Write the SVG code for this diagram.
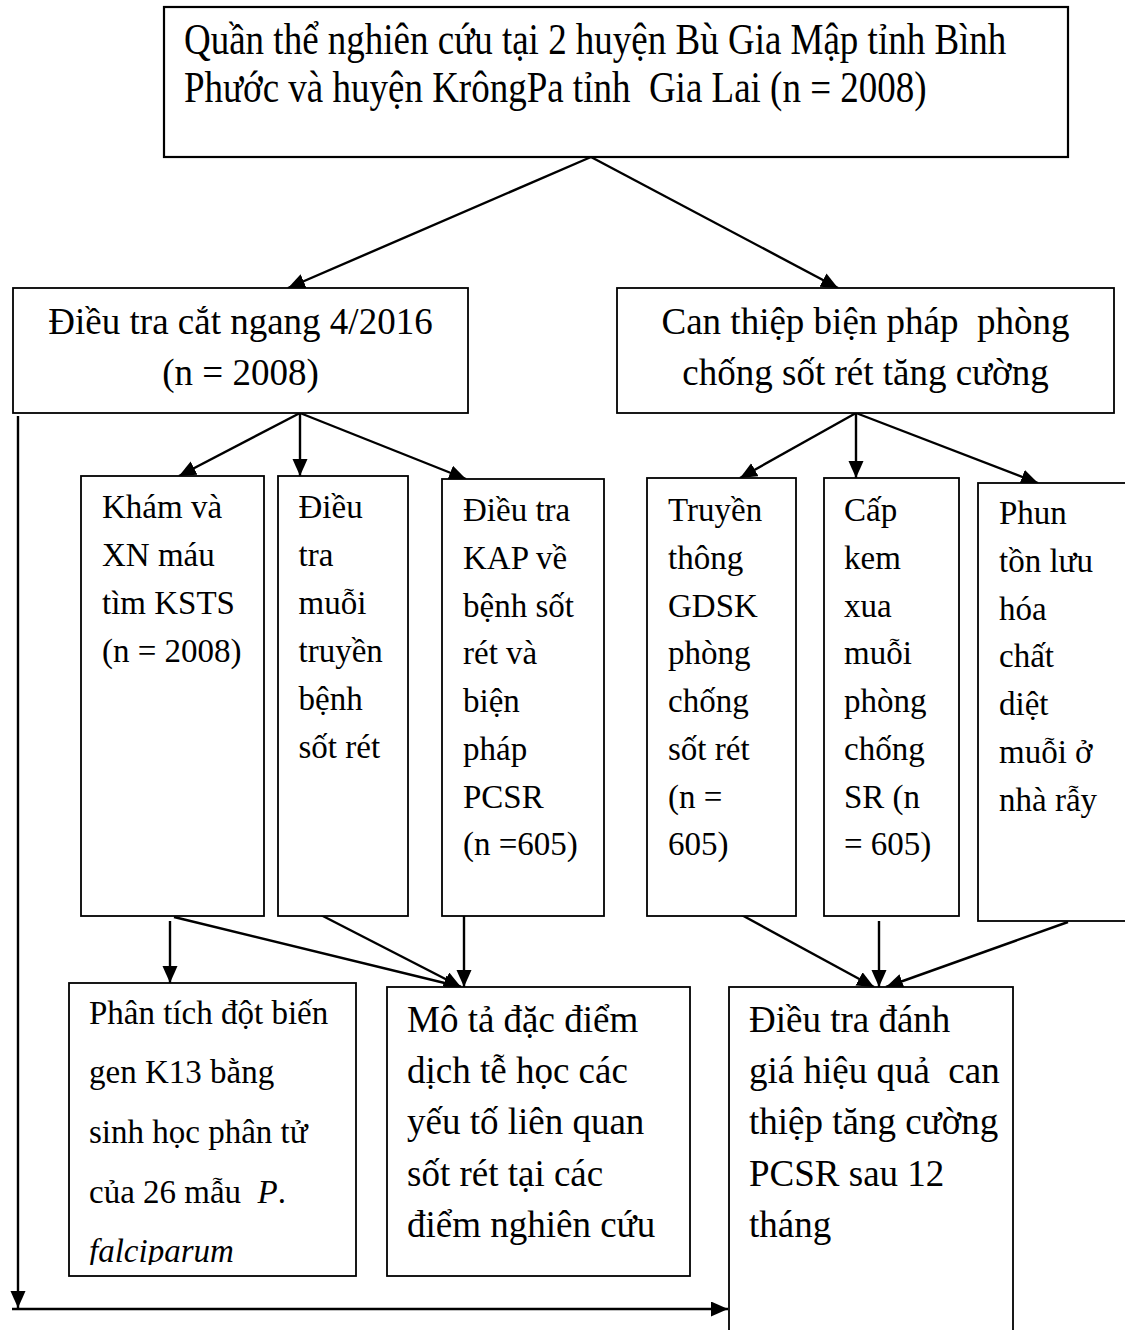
<svg xmlns="http://www.w3.org/2000/svg" width="1125" height="1330" viewBox="0 0 1125 1330">
<style>
.box{fill:#fff;stroke:#000;stroke-width:1.8}
.t{font-family:"Liberation Serif","Times New Roman",serif;fill:#000;white-space:pre}
.f37{font-size:37px}
.f33{font-size:33px}
.c{stroke:#000;stroke-width:2.4;fill:none}
.it{font-style:italic}
</style>
<defs>
<marker id="ah" markerUnits="userSpaceOnUse" markerWidth="18" markerHeight="16" refX="17" refY="7.5" orient="auto">
<path d="M0,0 L17,7.5 L0,15 z" fill="#000"/>
</marker>
<clipPath id="clipG"><rect x="69" y="983" width="287" height="282"/></clipPath>
</defs>
<rect width="1125" height="1330" fill="#fff"/>

<g id="connectors">
<line class="c" x1="591" y1="157" x2="288" y2="288" marker-end="url(#ah)"/>
<line class="c" x1="591" y1="157" x2="838" y2="288" marker-end="url(#ah)"/>
<line class="c" x1="300" y1="413" x2="179" y2="476" marker-end="url(#ah)"/>
<line class="c" x1="300" y1="413" x2="300" y2="476" marker-end="url(#ah)"/>
<line class="c" x1="300" y1="413" x2="466" y2="479" marker-end="url(#ah)"/>
<line class="c" x1="856" y1="413" x2="740" y2="478" marker-end="url(#ah)"/>
<line class="c" x1="856" y1="413" x2="856" y2="478" marker-end="url(#ah)"/>
<line class="c" x1="856" y1="413" x2="1038" y2="483" marker-end="url(#ah)"/>
<line class="c" x1="170" y1="921" x2="170" y2="983" marker-end="url(#ah)"/>
<line class="c" x1="174" y1="917" x2="461" y2="987" marker-end="url(#ah)"/>
<line class="c" x1="317" y1="913" x2="461" y2="987" marker-end="url(#ah)"/>
<line class="c" x1="464" y1="913" x2="464" y2="987" marker-end="url(#ah)"/>
<line class="c" x1="738" y1="913" x2="874" y2="987" marker-end="url(#ah)"/>
<line class="c" x1="879" y1="921" x2="879" y2="987" marker-end="url(#ah)"/>
<line class="c" x1="1068" y1="922" x2="886" y2="987" marker-end="url(#ah)"/>
<line class="c" x1="18" y1="416" x2="18" y2="1308" marker-end="url(#ah)"/>
<line class="c" x1="12" y1="1309" x2="728" y2="1309" marker-end="url(#ah)"/>
</g>

<g id="n-top">
<rect class="box" x="164" y="7" width="904" height="150" style="stroke-width:2.2"/>
<text class="t f37" transform="translate(184,54) scale(1,1.18)">Quần thể nghiên cứu tại 2 huyện Bù Gia Mập tỉnh Bình</text>
<text class="t f37" transform="translate(184,102) scale(1,1.18)">Phước và huyện KrôngPa tỉnh  Gia Lai (n = 2008)</text>
</g>

<g id="n-cross">
<rect class="box" x="13" y="288" width="455" height="125"/>
<text class="t f37" x="240.5" y="334" text-anchor="middle">Điều tra cắt ngang 4/2016</text>
<text class="t f37" x="240.5" y="385" text-anchor="middle">(n = 2008)</text>
</g>

<g id="n-interv">
<rect class="box" x="617" y="288" width="497" height="125"/>
<text class="t f37" x="865.5" y="334" text-anchor="middle">Can thiệp biện pháp  phòng</text>
<text class="t f37" x="865.5" y="385" text-anchor="middle">chống sốt rét tăng cường</text>
</g>

<g id="n-kham">
<rect class="box" x="81" y="476" width="183" height="440"/>
<text class="t f33" x="102" y="518">Khám và</text>
<text class="t f33" x="102" y="566">XN máu</text>
<text class="t f33" x="102" y="614">tìm KSTS</text>
<text class="t f33" x="102" y="662">(n = 2008)</text>
</g>

<g id="n-muoi">
<rect class="box" x="278" y="476" width="130" height="440"/>
<text class="t f33" x="298.5" y="518">Điều</text>
<text class="t f33" x="298.5" y="566">tra</text>
<text class="t f33" x="298.5" y="614">muỗi</text>
<text class="t f33" x="298.5" y="662">truyền</text>
<text class="t f33" x="298.5" y="710">bệnh</text>
<text class="t f33" x="298.5" y="758">sốt rét</text>
</g>

<g id="n-kap">
<rect class="box" x="442" y="479" width="162" height="437"/>
<text class="t f33" x="463" y="521">Điều tra</text>
<text class="t f33" x="463" y="569">KAP về</text>
<text class="t f33" x="463" y="617">bệnh sốt</text>
<text class="t f33" x="463" y="664">rét và</text>
<text class="t f33" x="463" y="712">biện</text>
<text class="t f33" x="463" y="760">pháp</text>
<text class="t f33" x="463" y="808">PCSR</text>
<text class="t f33" x="463" y="855">(n =605)</text>
</g>

<g id="n-truyen">
<rect class="box" x="647" y="478" width="149" height="438"/>
<text class="t f33" x="668" y="521">Truyền</text>
<text class="t f33" x="668" y="569">thông</text>
<text class="t f33" x="668" y="617">GDSK</text>
<text class="t f33" x="668" y="664">phòng</text>
<text class="t f33" x="668" y="712">chống</text>
<text class="t f33" x="668" y="760">sốt rét</text>
<text class="t f33" x="668" y="808">(n =</text>
<text class="t f33" x="668" y="855">605)</text>
</g>

<g id="n-kem">
<rect class="box" x="824" y="478" width="135" height="438"/>
<text class="t f33" x="844" y="521">Cấp</text>
<text class="t f33" x="844" y="569">kem</text>
<text class="t f33" x="844" y="617">xua</text>
<text class="t f33" x="844" y="664">muỗi</text>
<text class="t f33" x="844" y="712">phòng</text>
<text class="t f33" x="844" y="760">chống</text>
<text class="t f33" x="844" y="808">SR (n</text>
<text class="t f33" x="844" y="855">= 605)</text>
</g>

<g id="n-phun">
<rect class="box" x="978" y="483" width="160" height="438"/>
<text class="t f33" x="999" y="524">Phun</text>
<text class="t f33" x="999" y="572">tồn lưu</text>
<text class="t f33" x="999" y="620">hóa</text>
<text class="t f33" x="999" y="667">chất</text>
<text class="t f33" x="999" y="715">diệt</text>
<text class="t f33" x="999" y="763">muỗi ở</text>
<text class="t f33" x="999" y="811">nhà rẫy</text>
</g>

<g id="n-k13">
<rect class="box" x="69" y="983" width="287" height="293"/>
<g clip-path="url(#clipG)">
<text class="t f33" x="89" y="1024">Phân tích đột biến</text>
<text class="t f33" x="89" y="1083">gen K13 bằng</text>
<text class="t f33" x="89" y="1143">sinh học phân tử</text>
<text class="t f33" x="89" y="1203">của 26 mẫu  <tspan class="it">P</tspan>.</text>
<text class="t f33 it" x="89" y="1262">falciparum</text>
</g>
</g>

<g id="n-mota">
<rect class="box" x="387" y="987" width="303" height="289"/>
<text class="t f37" x="407" y="1032">Mô tả đặc điểm</text>
<text class="t f37" x="407" y="1083">dịch tễ học các</text>
<text class="t f37" x="407" y="1134">yếu tố liên quan</text>
<text class="t f37" x="407" y="1186">sốt rét tại các</text>
<text class="t f37" x="407" y="1237">điểm nghiên cứu</text>
</g>

<g id="n-danhgia">
<rect class="box" x="729" y="987" width="284" height="360"/>
<text class="t f37" x="749" y="1032">Điều tra đánh</text>
<text class="t f37" x="749" y="1083">giá hiệu quả  can</text>
<text class="t f37" x="749" y="1134">thiệp tăng cường</text>
<text class="t f37" x="749" y="1186">PCSR sau 12</text>
<text class="t f37" x="749" y="1237">tháng</text>
</g>
</svg>
